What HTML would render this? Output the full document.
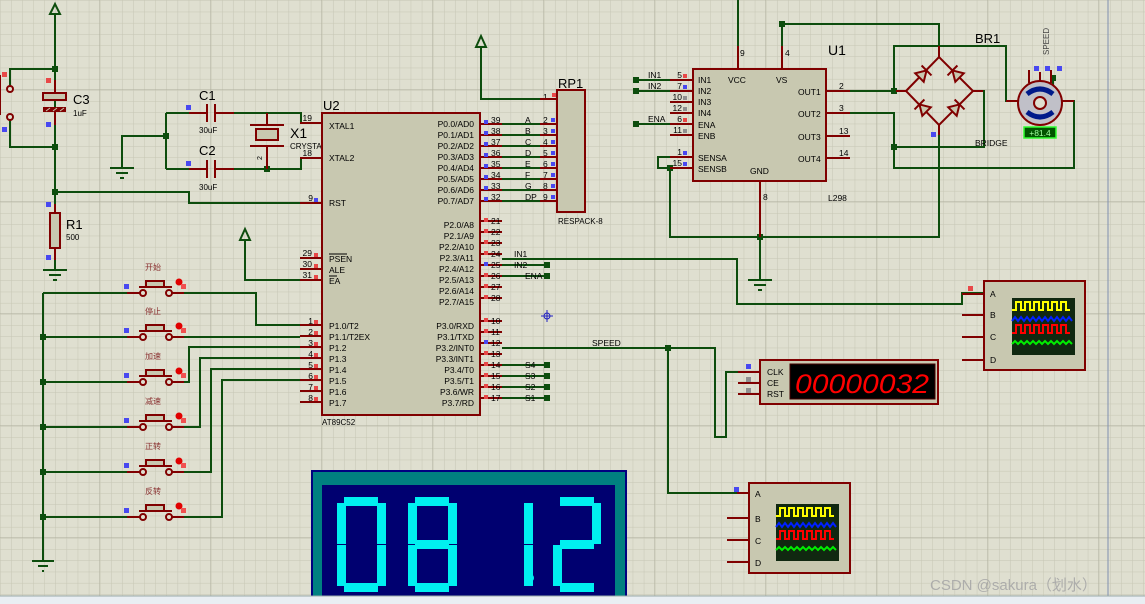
<!DOCTYPE html>
<html><head><meta charset="utf-8"><style>
html,body{margin:0;padding:0;width:1145px;height:604px;overflow:hidden;background:#dfdfd0}
svg{display:block}
text{font-family:"Liberation Sans","Noto Sans CJK SC",sans-serif;}
</style></head><body>
<svg width="1145" height="604" viewBox="0 0 1145 604" xmlns="http://www.w3.org/2000/svg">
<defs>
<pattern id="g" width="11.1" height="11.2" patternUnits="userSpaceOnUse" x="0.5" y="1">
<path d="M11.1 0V11.2M0 11.2H11.1" stroke="#c6c6b4" stroke-width="1" fill="none"/>
</pattern>
<pattern id="G" width="111" height="112" patternUnits="userSpaceOnUse" x="-11" y="-22">
<path d="M111 0V112M0 112H111" stroke="#aeae9c" stroke-width="1" fill="none"/>
</pattern>
<g id="dio"><path d="M-5 -6L-5 6L5 0Z" fill="#c8c8b0" stroke="#800000" stroke-width="2"/><path d="M5 -7V7" stroke="#800000" stroke-width="2"/></g>
</defs>
<rect width="1145" height="604" fill="#dfdfd0"/>
<rect width="1145" height="604" fill="url(#g)"/>
<rect width="1145" height="604" fill="url(#G)"/>
<line x1="1108" y1="0" x2="1108" y2="596" stroke="#7f8fb0" stroke-width="1"/>

<!-- WIRES -->
<g stroke="#0d4d0d" stroke-width="2" fill="none">
<path d="M55 14V213M55 248V270"/>
<path d="M10 89V69H55M10 117V147H55"/>
<path d="M55 192H189V203H300"/>
<path d="M166 113V169M166 136H122V168M166 113H189M166 169H189"/>
<path d="M234 113H301V123M234 169H301V158"/>
<path d="M245 240V280H300"/>
<path d="M481 47V99H540"/>
<path d="M502 124H540M502 135H540M502 146H540M502 157H540M502 168H540M502 179H540M502 190H540M502 201H540"/>
<path d="M502 259H737V304H962V293H984"/>
<path d="M502 265H547M502 276H547M502 365H547M502 376H547M502 387H547M502 398H547"/>
<path d="M502 348H715V437H726V372H745M668 348V493H737"/>
<path d="M43 293V560M43 293H127M172 293H256V325H300"/>
<path d="M43 337H127M172 337H300"/>
<path d="M43 382H127M172 382H189V347H300"/>
<path d="M43 427H127M172 427H200V358H300"/>
<path d="M43 472H127M172 472H211V369H300"/>
<path d="M43 517H127M172 517H222V380H300"/>
<path d="M636 80H670M636 91H670M636 124H670"/>
<path d="M738 0V46M782 24V46M782 24H939V46"/>
<path d="M670 168H658V157H670M670 168V237H939V125M760 237V280"/>
<path d="M850 91H906M894 91V46H1006V101H1018"/>
<path d="M850 113H894V168H1074V101H1062M894 147H984V91H973"/>
<path d="M1053 78V92"/>
</g>
<g fill="#0d4d0d">
<rect x="52" y="66" width="6" height="6"/><rect x="52" y="144" width="6" height="6"/><rect x="52" y="189" width="6" height="6"/>
<rect x="163" y="133" width="6" height="6"/><rect x="264" y="166" width="6" height="6"/>
<rect x="40" y="334" width="6" height="6"/><rect x="40" y="379" width="6" height="6"/><rect x="40" y="424" width="6" height="6"/><rect x="40" y="469" width="6" height="6"/><rect x="40" y="514" width="6" height="6"/>
<rect x="544" y="262" width="6" height="6"/><rect x="544" y="273" width="6" height="6"/><rect x="544" y="362" width="6" height="6"/><rect x="544" y="373" width="6" height="6"/><rect x="544" y="384" width="6" height="6"/><rect x="544" y="395" width="6" height="6"/>
<rect x="665" y="345" width="6" height="6"/><rect x="633" y="77" width="6" height="6"/><rect x="633" y="88" width="6" height="6"/><rect x="633" y="121" width="6" height="6"/>
<rect x="779" y="21" width="6" height="6"/><rect x="667" y="165" width="6" height="6"/><rect x="757" y="234" width="6" height="6"/>
<rect x="891" y="88" width="6" height="6"/><rect x="891" y="144" width="6" height="6"/><rect x="1050" y="75" width="6" height="6"/>
</g>
<g stroke="#0d4d0d" stroke-width="2" fill="none">
<path d="M50 14L55 4L60 14Z"/><path d="M240 240L245 229L250 240Z"/><path d="M476 47L481 36L486 47Z"/>
</g>
<g stroke="#0d4d0d" stroke-width="2">
<path d="M43 270H67M49 275H61M53 280H57"/>
<path d="M110 168H134M116 173H128M120 178H124"/>
<path d="M32 561H54M38 566H48M42 571H44"/>
<path d="M748 280H772M754 285H766M758 290H762"/>
</g>

<!-- C3 -->
<rect x="43" y="93" width="23" height="7" fill="#c8c8b0" stroke="#800000" stroke-width="2"/>
<rect x="43" y="107" width="23" height="5" fill="#800000"/>
<path d="M46 111l4-3M53 111l4-3M60 111l4-3" stroke="#c8c8b0" stroke-width="1"/>
<path d="M55 80V93M55 112V125" stroke="#800000" stroke-width="2"/>
<text x="73" y="104" font-size="13">C3</text><text x="73" y="116" font-size="8">1uF</text>
<!-- R1 -->
<rect x="50" y="213" width="10" height="35" fill="#c8c8b0" stroke="#800000" stroke-width="2"/>
<path d="M55 204V213M55 248V260" stroke="#800000" stroke-width="2"/>
<text x="66" y="229" font-size="13">R1</text><text x="66" y="240" font-size="8">500</text>
<path d="M0 75V115" stroke="#800000" stroke-width="2"/>
<circle cx="10" cy="89" r="3" fill="#dfdfd0" stroke="#800000" stroke-width="2"/>
<circle cx="10" cy="117" r="3" fill="#dfdfd0" stroke="#800000" stroke-width="2"/>
<!-- C1 C2 X1 -->
<g stroke="#800000" stroke-width="2">
<path d="M189 113H207M215 113H234M207 104V122M215 104V122"/>
<path d="M189 169H207M215 169H234M207 160V178M215 160V178"/>
<path d="M267 113V125M250 125H284M250 146H284M267 146V169"/>
</g>
<rect x="256" y="129" width="22" height="11" fill="#c8c8b0" stroke="#800000" stroke-width="2"/>
<text x="199" y="100" font-size="13">C1</text><text x="199" y="133" font-size="8">30uF</text>
<text x="199" y="155" font-size="13">C2</text><text x="199" y="190" font-size="8">30uF</text>
<text x="290" y="138" font-size="14">X1</text><text x="290" y="149" font-size="8">CRYSTAL</text>
<text x="262" y="160" font-size="7" transform="rotate(-90 262 160)">2</text>

<!-- U2 -->
<g stroke="#800000" stroke-width="2">
<path d="M300 123H322M300 158H322M300 203H322M300 258H322M300 269H322M300 280H322M300 325H322M300 336H322M300 347H322M300 358H322M300 369H322M300 380H322M300 391H322M300 402H322"/>
<path d="M480 124H502M480 135H502M480 146H502M480 157H502M480 168H502M480 179H502M480 190H502M480 201H502M480 221H502M480 232H502M480 243H502M480 254H502M480 265H502M480 276H502M480 287H502M480 298H502M480 321H502M480 332H502M480 343H502M480 354H502M480 365H502M480 376H502M480 387H502M480 398H502"/>
</g>
<rect x="322" y="113" width="158" height="302" fill="#c8c8b0" stroke="#800000" stroke-width="2"/>
<text x="323" y="110" font-size="13">U2</text><text x="322" y="425" font-size="8">AT89C52</text>
<g font-size="8.5" fill="#000">
<text x="329" y="129">XTAL1</text><text x="329" y="161">XTAL2</text><text x="329" y="206">RST</text>
<text x="329" y="262">PSEN</text><text x="329" y="273">ALE</text><text x="329" y="284">EA</text>
<text x="329" y="329">P1.0/T2</text><text x="329" y="340">P1.1/T2EX</text><text x="329" y="351">P1.2</text><text x="329" y="362">P1.3</text><text x="329" y="373">P1.4</text><text x="329" y="384">P1.5</text><text x="329" y="395">P1.6</text><text x="329" y="406">P1.7</text>
</g>
<path d="M329 254H347M329 276H337" stroke="#000" stroke-width="1"/>
<g font-size="8.5" text-anchor="end">
<text x="474" y="127">P0.0/AD0</text><text x="474" y="138">P0.1/AD1</text><text x="474" y="149">P0.2/AD2</text><text x="474" y="160">P0.3/AD3</text><text x="474" y="171">P0.4/AD4</text><text x="474" y="182">P0.5/AD5</text><text x="474" y="193">P0.6/AD6</text><text x="474" y="204">P0.7/AD7</text>
<text x="474" y="228">P2.0/A8</text><text x="474" y="239">P2.1/A9</text><text x="474" y="250">P2.2/A10</text><text x="474" y="261">P2.3/A11</text><text x="474" y="272">P2.4/A12</text><text x="474" y="283">P2.5/A13</text><text x="474" y="294">P2.6/A14</text><text x="474" y="305">P2.7/A15</text>
<text x="474" y="329">P3.0/RXD</text><text x="474" y="340">P3.1/TXD</text><text x="474" y="351">P3.2/INT0</text><text x="474" y="362">P3.3/INT1</text><text x="474" y="373">P3.4/T0</text><text x="474" y="384">P3.5/T1</text><text x="474" y="395">P3.6/WR</text><text x="474" y="406">P3.7/RD</text>
</g>
<g font-size="8.5" text-anchor="end">
<text x="312" y="121">19</text><text x="312" y="156">18</text><text x="313" y="201">9</text>
<text x="312" y="256">29</text><text x="312" y="267">30</text><text x="312" y="278">31</text>
<text x="313" y="324">1</text><text x="313" y="335">2</text><text x="313" y="346">3</text><text x="313" y="357">4</text><text x="313" y="368">5</text><text x="313" y="379">6</text><text x="313" y="390">7</text><text x="313" y="401">8</text>
</g>
<g font-size="8.5">
<text x="491" y="123">39</text><text x="491" y="134">38</text><text x="491" y="145">37</text><text x="491" y="156">36</text><text x="491" y="167">35</text><text x="491" y="178">34</text><text x="491" y="189">33</text><text x="491" y="200">32</text>
<text x="491" y="224">21</text><text x="491" y="235">22</text><text x="491" y="246">23</text><text x="491" y="257">24</text><text x="491" y="268">25</text><text x="491" y="279">26</text><text x="491" y="290">27</text><text x="491" y="301">28</text>
<text x="491" y="324">10</text><text x="491" y="335">11</text><text x="491" y="346">12</text><text x="491" y="357">13</text><text x="491" y="368">14</text><text x="491" y="379">15</text><text x="491" y="390">16</text><text x="491" y="401">17</text>
<text x="525" y="123">A</text><text x="525" y="134">B</text><text x="525" y="145">C</text><text x="525" y="156">D</text><text x="525" y="167">E</text><text x="525" y="178">F</text><text x="525" y="189">G</text><text x="525" y="200">DP</text>
<text x="514" y="257">IN1</text><text x="514" y="268">IN2</text><text x="525" y="279">ENA</text><text x="592" y="346">SPEED</text>
<text x="525" y="368">S4</text><text x="525" y="379">S3</text><text x="525" y="390">S2</text><text x="525" y="401">S1</text>
<text x="543" y="100">1</text><text x="543" y="123">2</text><text x="543" y="134">3</text><text x="543" y="145">4</text><text x="543" y="156">5</text><text x="543" y="167">6</text><text x="543" y="178">7</text><text x="543" y="189">8</text><text x="543" y="200">9</text>
</g>
<g fill="#e84848">
<rect x="484" y="218" width="4" height="4"/><rect x="484" y="229" width="4" height="4"/><rect x="484" y="240" width="4" height="4"/><rect x="484" y="251" width="4" height="4"/><rect x="484" y="273" width="4" height="4"/><rect x="484" y="284" width="4" height="4"/><rect x="484" y="295" width="4" height="4"/>
<rect x="484" y="318" width="4" height="4"/><rect x="484" y="329" width="4" height="4"/><rect x="484" y="351" width="4" height="4"/><rect x="484" y="362" width="4" height="4"/><rect x="484" y="373" width="4" height="4"/><rect x="484" y="384" width="4" height="4"/><rect x="484" y="395" width="4" height="4"/>
<rect x="314" y="253" width="4" height="4"/><rect x="314" y="264" width="4" height="4"/><rect x="314" y="275" width="4" height="4"/>
<rect x="314" y="320" width="4" height="4"/><rect x="314" y="331" width="4" height="4"/><rect x="314" y="342" width="4" height="4"/><rect x="314" y="353" width="4" height="4"/><rect x="314" y="364" width="4" height="4"/><rect x="314" y="375" width="4" height="4"/><rect x="314" y="386" width="4" height="4"/><rect x="314" y="397" width="4" height="4"/>
<rect x="46" y="78" width="5" height="5"/><rect x="2" y="72" width="5" height="5"/><rect x="552" y="93" width="4" height="4"/><rect x="968" y="286" width="5" height="5"/>
<rect x="683" y="74" width="4" height="4"/><rect x="683" y="118" width="4" height="4"/>
</g>
<g fill="#4848f0">
<rect x="484" y="120" width="4" height="4"/><rect x="484" y="131" width="4" height="4"/><rect x="484" y="142" width="4" height="4"/><rect x="484" y="153" width="4" height="4"/><rect x="484" y="164" width="4" height="4"/><rect x="484" y="175" width="4" height="4"/><rect x="484" y="186" width="4" height="4"/><rect x="484" y="197" width="4" height="4"/>
<rect x="484" y="262" width="4" height="4"/><rect x="484" y="340" width="4" height="4"/><rect x="314" y="198" width="4" height="4"/>
<rect x="551" y="118" width="4" height="4"/><rect x="551" y="129" width="4" height="4"/><rect x="551" y="140" width="4" height="4"/><rect x="551" y="151" width="4" height="4"/><rect x="551" y="162" width="4" height="4"/><rect x="551" y="173" width="4" height="4"/><rect x="551" y="184" width="4" height="4"/><rect x="551" y="195" width="4" height="4"/>
<rect x="46" y="122" width="5" height="5"/><rect x="46" y="202" width="5" height="5"/><rect x="46" y="255" width="5" height="5"/><rect x="2" y="127" width="5" height="5"/>
<rect x="186" y="105" width="5" height="5"/><rect x="186" y="161" width="5" height="5"/>
<rect x="683" y="85" width="4" height="4"/><rect x="683" y="151" width="4" height="4"/><rect x="683" y="162" width="4" height="4"/>
<rect x="931" y="132" width="5" height="5"/><rect x="1034" y="66" width="5" height="5"/><rect x="1045" y="66" width="5" height="5"/><rect x="1057" y="66" width="5" height="5"/>
<rect x="746" y="364" width="5" height="5"/><rect x="734" y="487" width="5" height="5"/>
</g>
<g fill="#909090"><rect x="683" y="96" width="4" height="4"/><rect x="683" y="107" width="4" height="4"/><rect x="683" y="129" width="4" height="4"/><rect x="746" y="377" width="5" height="5"/><rect x="746" y="388" width="5" height="5"/></g>

<!-- RP1 -->
<path d="M540 99H557M540 124H557M540 135H557M540 146H557M540 157H557M540 168H557M540 179H557M540 190H557M540 201H557" stroke="#800000" stroke-width="2"/>
<rect x="557" y="90" width="28" height="122" fill="#c8c8b0" stroke="#800000" stroke-width="2"/>
<text x="558" y="88" font-size="13">RP1</text><text x="558" y="224" font-size="8">RESPACK-8</text>

<g stroke="#2020c0" stroke-width="1" fill="none"><circle cx="547" cy="316" r="3"/><path d="M541 316H553M547 310V322"/></g>

<!-- Buttons -->
<g stroke="#800000" stroke-width="2" fill="#c8c8b0">
<g id="b1"><path d="M127 293H140M172 293H184M139 287H172" fill="none"/><rect x="146" y="281" width="18" height="6"/><circle cx="143" cy="293" r="3" fill="#dfdfd0"/><circle cx="169" cy="293" r="3" fill="#dfdfd0"/></g>
<use href="#b1" y="44"/><use href="#b1" y="89"/><use href="#b1" y="134"/><use href="#b1" y="179"/><use href="#b1" y="224"/>
</g>
<g fill="#e00000"><circle cx="179" cy="282" r="3.5"/><circle cx="179" cy="326" r="3.5"/><circle cx="179" cy="371" r="3.5"/><circle cx="179" cy="416" r="3.5"/><circle cx="179" cy="461" r="3.5"/><circle cx="179" cy="506" r="3.5"/></g>
<g fill="#f05050"><rect x="181" y="284" width="5" height="5"/><rect x="181" y="328" width="5" height="5"/><rect x="181" y="373" width="5" height="5"/><rect x="181" y="418" width="5" height="5"/><rect x="181" y="463" width="5" height="5"/><rect x="181" y="508" width="5" height="5"/></g>
<g fill="#4848f0"><rect x="124" y="284" width="5" height="5"/><rect x="124" y="328" width="5" height="5"/><rect x="124" y="373" width="5" height="5"/><rect x="124" y="418" width="5" height="5"/><rect x="124" y="463" width="5" height="5"/><rect x="124" y="508" width="5" height="5"/></g>
<g font-size="8" fill="#8a3030">
<text x="145" y="270">开始</text><text x="145" y="314">停止</text><text x="145" y="359">加速</text><text x="145" y="404">减速</text><text x="145" y="449">正转</text><text x="145" y="494">反转</text>
</g>

<!-- U1 L298 -->
<g stroke="#800000" stroke-width="2">
<path d="M738 46V69M782 46V69M760 181V237"/>
<path d="M670 80H693M670 91H693M670 102H693M670 113H693M670 124H693M670 135H693M670 157H693M670 168H693"/>
<path d="M826 91H850M826 113H850M826 136H850M826 158H850"/>
</g>
<rect x="693" y="69" width="133" height="112" fill="#c8c8b0" stroke="#800000" stroke-width="2"/>
<g font-size="8.5">
<text x="698" y="83">IN1</text><text x="698" y="94">IN2</text><text x="698" y="105">IN3</text><text x="698" y="116">IN4</text><text x="698" y="128">ENA</text><text x="698" y="139">ENB</text><text x="698" y="161">SENSA</text><text x="698" y="172">SENSB</text>
<text x="728" y="83">VCC</text><text x="776" y="83">VS</text><text x="750" y="174">GND</text>
<text x="798" y="95">OUT1</text><text x="798" y="117">OUT2</text><text x="798" y="140">OUT3</text><text x="798" y="162">OUT4</text>
<text x="648" y="78">IN1</text><text x="648" y="89">IN2</text><text x="648" y="122">ENA</text>
</g>
<g font-size="8.5" text-anchor="end">
<text x="682" y="78">5</text><text x="682" y="89">7</text><text x="682" y="100">10</text><text x="682" y="111">12</text><text x="682" y="122">6</text><text x="682" y="133">11</text><text x="682" y="155">1</text><text x="682" y="166">15</text>
</g>
<g font-size="8.5">
<text x="740" y="56">9</text><text x="785" y="56">4</text><text x="763" y="200">8</text>
<text x="839" y="89">2</text><text x="839" y="111">3</text><text x="839" y="134">13</text><text x="839" y="156">14</text>
<text x="828" y="201">L298</text><text x="975" y="146">BRIDGE</text>
</g>
<text x="828" y="55" font-size="14">U1</text>
<text x="975" y="43" font-size="13">BR1</text>

<!-- Bridge -->
<g stroke="#800000" stroke-width="2" fill="none">
<path d="M906 91L939 57L973 91L939 125Z"/>
<path d="M939 46V57M939 125V135M896 91H906M973 91H983"/>
</g>
<use href="#dio" transform="translate(923 74) rotate(-45)"/>
<use href="#dio" transform="translate(956 74) rotate(-135)"/>
<use href="#dio" transform="translate(923 108) rotate(-135)"/>
<use href="#dio" transform="translate(956 108) rotate(-45)"/>
<!-- Motor -->
<path d="M1018 101H1006M1062 101H1074M1040 72V81M1029 70V83M1051 70V83" stroke="#800000" stroke-width="2"/>
<circle cx="1040" cy="103" r="22" fill="#c0c0c8" stroke="#800000" stroke-width="2"/>
<circle cx="1040" cy="103" r="6" fill="#dfdfd0" stroke="#800000" stroke-width="2"/>
<path d="M1027 94Q1040 84 1053 94" stroke="#001a8a" stroke-width="5" fill="none"/>
<path d="M1027 112Q1040 122 1053 112" stroke="#001a8a" stroke-width="5" fill="none"/>
<text x="1049" y="55" font-size="8" fill="#444" transform="rotate(-90 1049 55)">SPEED</text>
<rect x="1024" y="127" width="32" height="11" fill="#005500" stroke="#30ff30" stroke-width="1.5"/>
<text x="1040" y="136" font-size="8.5" fill="#a0ffa0" text-anchor="middle">+81.4</text>

<!-- Scope 1 -->
<path d="M962 294H984M962 315H984M962 337H984M962 360H984" stroke="#800000" stroke-width="2"/>
<rect x="984" y="281" width="101" height="89" fill="#c8c8b0" stroke="#800000" stroke-width="2"/>
<g font-size="8.5"><text x="990" y="297">A</text><text x="990" y="318">B</text><text x="990" y="340">C</text><text x="990" y="363">D</text></g>
<g id="scr">
<rect x="1012" y="298" width="63" height="57" fill="#102810"/>
<path d="M1012 310h4v-8h5v8h4v-8h5v8h4v-8h5v8h4v-8h5v8h4v-8h5v8h4v-8h5v8h4" stroke="#ffff00" stroke-width="2" fill="none"/>
<path d="M1012 321l3-4 3 4 3-4 3 4 3-4 3 4 3-4 3 4 3-4 3 4 3-4 3 4 3-4 3 4 3-4 3 4 3-4 3 4 3-4 3 4" stroke="#0020ff" stroke-width="2" fill="none"/>
<path d="M1012 333h4v-8h5v8h4v-8h5v8h4v-8h5v8h4v-8h5v8h4v-8h5v8h4v-8h5v8h4" stroke="#ff0000" stroke-width="2" fill="none"/>
<path d="M1012 344l3-3 3 3 3-3 3 3 3-3 3 3 3-3 3 3 3-3 3 3 3-3 3 3 3-3 3 3 3-3 3 3 3-3 3 3 3-3 3 3" stroke="#00ee00" stroke-width="2" fill="none"/>
</g>
<!-- Scope 2 -->
<path d="M737 493H749M727 518H749M727 540H749M727 562H749" stroke="#800000" stroke-width="2"/>
<rect x="749" y="483" width="101" height="90" fill="#c8c8b0" stroke="#800000" stroke-width="2"/>
<g font-size="8.5"><text x="755" y="497">A</text><text x="755" y="522">B</text><text x="755" y="544">C</text><text x="755" y="566">D</text></g>
<use href="#scr" x="-236" y="206"/>

<!-- Counter -->
<path d="M738 372H760M738 383H760M738 394H760" stroke="#800000" stroke-width="2"/>
<rect x="760" y="360" width="178" height="44" fill="#c8c8b0" stroke="#800000" stroke-width="2"/>
<g font-size="8.5"><text x="767" y="375">CLK</text><text x="767" y="386">CE</text><text x="767" y="397">RST</text></g>
<rect x="790" y="364" width="145" height="35" fill="#000" stroke="#400" stroke-width="1"/>
<text x="862" y="393" font-size="27" fill="#ff0000" text-anchor="middle" font-style="italic" textLength="134" lengthAdjust="spacingAndGlyphs" font-family="Liberation Mono">00000032</text>

<!-- Big 7 seg -->
<rect x="312" y="471" width="314" height="133" fill="#008080" stroke="#000080" stroke-width="2"/>
<rect x="322" y="485" width="293" height="113" fill="#000070"/>
<g fill="#00f0f0">
<g id="d0">
<rect x="344" y="497" width="34" height="9"/><rect x="337" y="503" width="9" height="41"/><rect x="377" y="503" width="9" height="41"/>
<rect x="337" y="545" width="9" height="41"/><rect x="377" y="545" width="9" height="41"/><rect x="344" y="583" width="34" height="9"/>
</g>
<use href="#d0" x="71"/><rect x="415" y="540" width="34" height="9"/>
<rect x="524" y="503" width="9" height="41"/><rect x="524" y="545" width="9" height="41"/><circle cx="530" cy="578" r="4"/>
<rect x="560" y="497" width="34" height="9"/><rect x="592" y="503" width="9" height="41"/><rect x="560" y="540" width="34" height="9"/><rect x="553" y="545" width="9" height="41"/><rect x="560" y="583" width="34" height="9"/>
</g>

<rect x="0" y="596" width="1145" height="8" fill="#e9eef3"/>
<line x1="0" y1="596" x2="1145" y2="596" stroke="#9aa" stroke-width="1"/>
<text x="930" y="590" font-size="15" fill="#a8a8a8" opacity="0.9">CSDN @sakura（划水）</text>
</svg>
</body></html>
